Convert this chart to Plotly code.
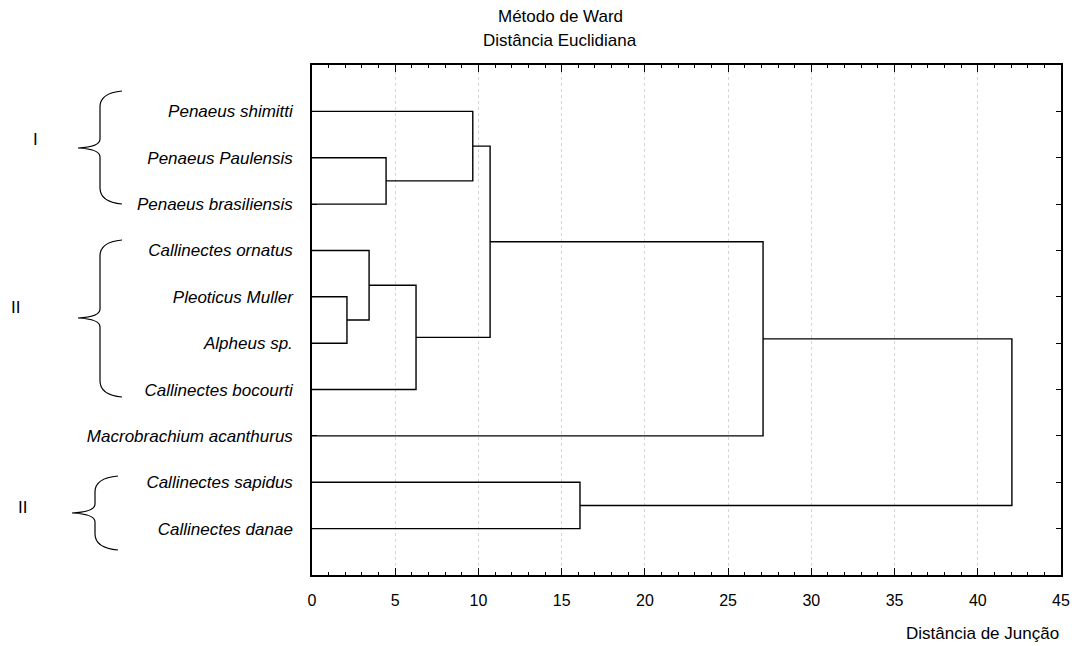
import plotly.graph_objects as go

# Species in dendrogram order (top to bottom)
leaves = [
    "Penaeus shimitti",
    "Penaeus Paulensis",
    "Penaeus brasiliensis",
    "Callinectes ornatus",
    "Pleoticus Muller",
    "Alpheus sp.",
    "Callinectes bocourti",
    "Macrobrachium acanthurus",
    "Callinectes sapidus",
    "Callinectes danae",
]

# Linkage: node ids < 10 are leaves, new clusters get ids 10, 11, ...
merge_a = [1, 4, 3, 0, 12, 8, 13, 16, 17]
merge_b = [2, 5, 11, 10, 6, 9, 14, 7, 15]
merge_height = [4.45, 2.1, 3.43, 9.66, 6.25, 16.1, 10.7, 27.1, 42.05]

x_ticks = [0, 5, 10, 15, 20, 25, 30, 35, 40, 45]

# Plot-area geometry in pixels
W, H = 1074, 646
L, R, T, B = 312, 13, 65, 71
PW, PH = W - L - R, H - T - B


def px(x):
    return (x - L) / PW


def py(y):
    return (H - B - y) / PH


# Build the dendrogram elbows
pos = {i: i + 1 for i in range(len(leaves))}
hgt = {i: 0.0 for i in range(len(leaves))}
xs, ys = [], []
for k, (a, b, h) in enumerate(zip(merge_a, merge_b, merge_height)):
    node = len(leaves) + k
    xs += [hgt[a], h, h, hgt[b], None]
    ys += [pos[a], pos[a], pos[b], pos[b], None]
    pos[node] = (pos[a] + pos[b]) / 2
    hgt[node] = h

fig = go.Figure()
fig.add_trace(go.Scatter(
    x=xs, y=ys, mode="lines",
    line=dict(color="black", width=1.4),
    hoverinfo="skip", showlegend=False,
))

font = "Liberation Sans, Arial, Helvetica, sans-serif"

fig.update_layout(
    width=W, height=H,
    margin=dict(l=L, r=R, t=T, b=B, pad=0, autoexpand=False),
    paper_bgcolor="white", plot_bgcolor="white",
    font=dict(family=font, color="black", size=16),
    xaxis=dict(
        range=[0, 45], tickvals=x_ticks, automargin=False,
        ticks="inside", ticklen=7, tickwidth=1.4, tickcolor="black",
        minor=dict(ticks="inside", ticklen=3, dtick=1, tickcolor="black",
                   tickwidth=1.2, showgrid=False),
        showline=True, linecolor="black", linewidth=1.5, mirror=True,
        showgrid=True, gridcolor="#d4d4d4", griddash="dot", gridwidth=1,
        zeroline=False, tickfont=dict(size=16), ticklabelstandoff=10,
    ),
    # top edge ticks (major and minor), sharing the bottom scale
    xaxis2=dict(
        overlaying="x", matches="x", side="top", anchor="y", automargin=False,
        range=[0, 45], tickvals=x_ticks, showticklabels=False,
        ticks="inside", ticklen=7, tickwidth=1.4, tickcolor="black",
        minor=dict(ticks="inside", ticklen=3, dtick=1, tickcolor="black",
                   tickwidth=1.2, showgrid=False),
        showline=False, showgrid=False, zeroline=False,
    ),
    yaxis=dict(
        range=[11, 0], tickvals=list(range(1, len(leaves) + 1)), ticktext=leaves,
        automargin=False,
        ticks="inside", ticklen=5, tickwidth=1.4, tickcolor="black",
        showline=True, linecolor="black", linewidth=1.5, mirror="ticks",
        showgrid=False, zeroline=False,
        tickfont=dict(size=17, style="italic"), ticklabelstandoff=14,
    ),
)

# Invisible trace so the top axis is drawn
fig.add_trace(go.Scatter(x=[0], y=[0], xaxis="x2", mode="markers",
                         marker=dict(opacity=0), hoverinfo="skip", showlegend=False))

# Title lines
fig.add_annotation(text="Método de Ward", x=px(560), y=py(17), xref="paper", yref="paper",
                   showarrow=False, xanchor="center", yanchor="middle", font=dict(size=17))
fig.add_annotation(text="Distância Euclidiana", x=px(560), y=py(41), xref="paper", yref="paper",
                   showarrow=False, xanchor="center", yanchor="middle", font=dict(size=17))

# Axis title at bottom right
fig.add_annotation(text="Distância de Junção", x=1.0, y=py(633), xref="paper", yref="paper",
                   showarrow=False, xanchor="right", yanchor="middle", font=dict(size=17))


# Curly braces grouping the species
def brace(x_end, x_v, x_tip, y_top, y_mid, y_bot):
    r = 16
    pts = [
        ("M", [(x_end, y_top)]),
        ("Q", [(x_v, y_top + 2), (x_v, y_top + r)]),
        ("L", [(x_v, y_mid - 9)]),
        ("Q", [(x_v, y_mid - 1), (x_tip, y_mid)]),
        ("Q", [(x_v, y_mid + 1), (x_v, y_mid + 9)]),
        ("L", [(x_v, y_bot - r)]),
        ("Q", [(x_v, y_bot - 2), (x_end, y_bot)]),
    ]
    path = ""
    for cmd, cs in pts:
        path += cmd + " " + " ".join(f"{px(cx):.5f},{py(cy):.5f}" for cx, cy in cs) + " "
    fig.add_shape(type="path", path=path, xref="paper", yref="paper",
                  line=dict(color="black", width=1.2))


brace(122, 100, 78, 91, 148, 204)
brace(122, 100, 78, 240, 318, 397)
brace(118, 95, 72, 476, 513, 550)

for label, x, y in [("I", 35, 139), ("II", 15, 307), ("II", 22, 507)]:
    fig.add_annotation(text=label, x=px(x), y=py(y), xref="paper", yref="paper",
                       showarrow=False, xanchor="center", yanchor="middle",
                       font=dict(size=17))

fig.write_html("out.html")
